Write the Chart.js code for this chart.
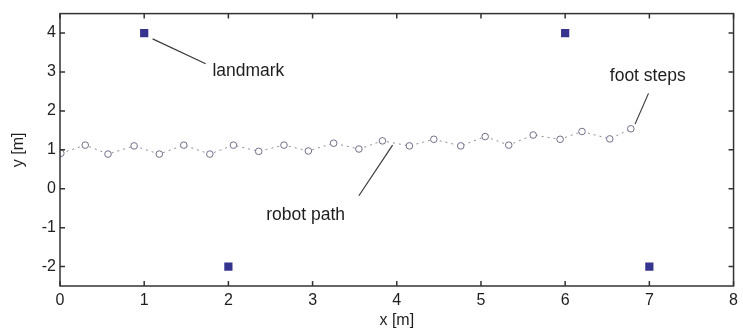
<!DOCTYPE html>
<html>
<head>
<meta charset="utf-8">
<script src="https://cdn.jsdelivr.net/npm/chart.js@4"></script>
<style>
  html, body { margin: 0; padding: 0; background: #fff; }
  #wrap { width: 743px; height: 332px; }
</style>
</head>
<body>
<div id="wrap"><canvas id="myChart"></canvas></div>
<script>
// foot step positions [m]
const stepX = [0.01, 0.30, 0.57, 0.88, 1.18, 1.47, 1.78, 2.06, 2.36, 2.66, 2.95, 3.25,
               3.55, 3.83, 4.15, 4.44, 4.76, 5.05, 5.33, 5.62, 5.94, 6.20, 6.53, 6.78];
const stepY = [0.91, 1.12, 0.89, 1.10, 0.89, 1.12, 0.89, 1.12, 0.96, 1.12, 0.97, 1.17,
               1.02, 1.23, 1.10, 1.27, 1.10, 1.34, 1.12, 1.38, 1.27, 1.47, 1.28, 1.54];
// landmarks
const landX = [1, 2, 6, 7];
const landY = [4, -2, 4, -2];
// tick labels
const xTicks = [0, 1, 2, 3, 4, 5, 6, 7, 8];
const yTicks = [-2, -1, 0, 1, 2, 3, 4];

// text callouts: [text, line from x,y, line to x,y, text x,y]
const notes = [
  ["landmark",   1.10, 3.85, 1.73, 3.21, 1.81, 3.02],
  ["robot path", 3.95, 1.12, 3.55, -0.18, 2.45, -0.67],
  ["foot steps", 6.99, 2.45, 6.83, 1.66, 6.53, 2.90],
];

const ctx = document.getElementById("myChart");
const FONT = "'Liberation Sans', Arial, sans-serif";

// box + inward ticks + callouts
const boxPlugin = {
  id: "box",
  afterDatasetsDraw(chart) {
    const c = chart.ctx;
    const a = chart.chartArea;
    const sx = chart.scales.x, sy = chart.scales.y;
    c.save();
    c.strokeStyle = "#333";
    c.lineWidth = 1.5;
    c.strokeRect(a.left, a.top, a.right - a.left, a.bottom - a.top);
    c.beginPath();
    xTicks.forEach(v => {
      const px = sx.getPixelForValue(v);
      c.moveTo(px, a.bottom); c.lineTo(px, a.bottom - 5);
      c.moveTo(px, a.top); c.lineTo(px, a.top + 5);
    });
    yTicks.forEach(v => {
      const py = sy.getPixelForValue(v);
      c.moveTo(a.left, py); c.lineTo(a.left + 5, py);
      c.moveTo(a.right, py); c.lineTo(a.right - 5, py);
    });
    c.stroke();

    c.lineWidth = 1.2;
    c.strokeStyle = "#3a3a3a";
    c.fillStyle = "#1e1e1e";
    c.font = "17.5px " + FONT;
    c.textBaseline = "middle";
    c.textAlign = "left";
    notes.forEach(n => {
      c.beginPath();
      c.moveTo(sx.getPixelForValue(n[1]), sy.getPixelForValue(n[2]));
      c.lineTo(sx.getPixelForValue(n[3]), sy.getPixelForValue(n[4]));
      c.stroke();
      c.fillText(n[0], sx.getPixelForValue(n[5]), sy.getPixelForValue(n[6]));
    });
    c.restore();
  },
};

const chart = new Chart(ctx, {
  type: "scatter",
  data: {
    datasets: [
      {
        label: "foot steps",
        data: stepX.map((x, i) => ({ x: x, y: stepY[i] })),
        showLine: true,
        borderColor: "#8c8c9c",
        borderWidth: 1,
        borderDash: [2, 4],
        pointStyle: "circle",
        pointRadius: 3.3,
        pointBorderColor: "#6f6f8a",
        pointBackgroundColor: "#fff",
        pointBorderWidth: 1,
      },
      {
        label: "landmark",
        data: landX.map((x, i) => ({ x: x, y: landY[i] })),
        showLine: false,
        pointStyle: "rect",
        pointRadius: 5.8,
        pointBorderWidth: 0,
        pointBackgroundColor: "#35358f",
        pointBorderColor: "#35358f",
      },
    ],
  },
  options: {
    responsive: true,
    maintainAspectRatio: false,
    animation: false,
    layout: { padding: { top: 13, right: 5, left: 0, bottom: 0 } },
    plugins: {
      legend: { display: false },
      tooltip: { enabled: false },
    },
    scales: {
      x: {
        type: "linear",
        min: 0,
        max: 8,
        afterFit: s => { s.height = 46; },
        afterBuildTicks: s => { s.ticks = xTicks.map(v => ({ value: v })); },
        grid: { display: false, drawTicks: false },
        border: { display: false },
        ticks: {
          color: "#1e1e1e",
          padding: 5,
          font: { size: 16, family: FONT },
        },
        title: {
          display: true,
          text: "x [m]",
          color: "#1e1e1e",
          padding: { top: 0, bottom: 2 },
          font: { size: 16, family: FONT },
        },
      },
      y: {
        type: "linear",
        min: -2.5,
        max: 4.5,
        afterFit: s => { s.width = 60; },
        afterBuildTicks: s => { s.ticks = yTicks.map(v => ({ value: v })); },
        grid: { display: false, drawTicks: false },
        border: { display: false },
        ticks: {
          color: "#1e1e1e",
          padding: 4,
          font: { size: 16, family: FONT },
        },
        title: {
          display: true,
          text: "y [m]",
          color: "#1e1e1e",
          padding: { top: 9, bottom: 0 },
          font: { size: 16, family: FONT },
        },
      },
    },
  },
  plugins: [boxPlugin],
});
</script>
</body>
</html>
